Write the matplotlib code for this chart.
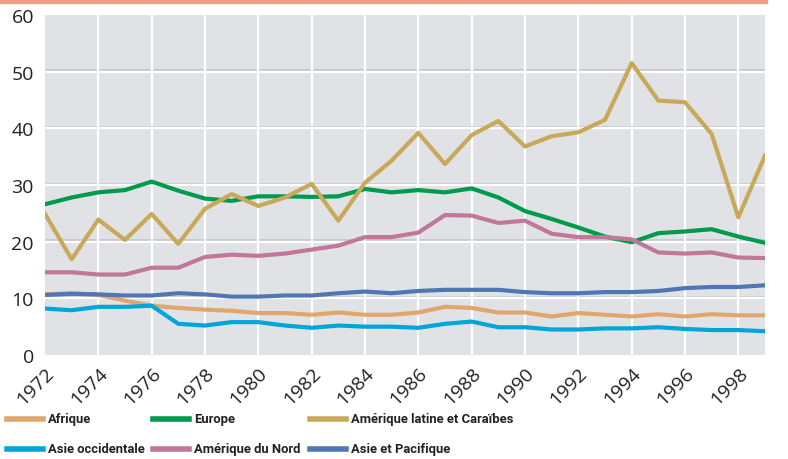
import matplotlib.pyplot as plt
import matplotlib.patches as mpatches
from matplotlib.lines import Line2D

years = list(range(1972, 2000))

afrique = [10.7, 10.9, 10.6, 9.6, 8.7, 8.3, 8.0, 7.8, 7.4, 7.4, 7.1, 7.5, 7.1, 7.1,
           7.5, 8.5, 8.3, 7.5, 7.5, 6.8, 7.4, 7.1, 6.8, 7.2, 6.8, 7.2, 7.0, 7.0]
europe = [26.6, 27.8, 28.7, 29.1, 30.6, 29.0, 27.6, 27.2, 28.0, 28.0, 27.9, 28.0, 29.3, 28.7,
          29.1, 28.7, 29.4, 27.8, 25.4, 24.0, 22.5, 20.9, 19.9, 21.5, 21.8, 22.2, 20.9, 19.8]
amerique_latine = [24.9, 16.9, 23.9, 20.3, 24.9, 19.6, 25.8, 28.4, 26.3, 27.8, 30.2, 23.7, 30.4, 34.3,
                   39.2, 33.7, 38.8, 41.3, 36.8, 38.6, 39.3, 41.5, 51.5, 44.9, 44.6, 39.0, 24.3, 35.2]
asie_occidentale = [8.2, 7.9, 8.5, 8.5, 8.7, 5.5, 5.2, 5.8, 5.8, 5.2, 4.8, 5.2, 5.0, 5.0,
                    4.8, 5.5, 5.9, 4.9, 4.9, 4.5, 4.5, 4.7, 4.7, 4.9, 4.6, 4.4, 4.4, 4.2]
amerique_nord = [14.6, 14.6, 14.2, 14.2, 15.4, 15.4, 17.3, 17.7, 17.5, 17.9, 18.6, 19.3, 20.8, 20.8,
                 21.6, 24.7, 24.6, 23.3, 23.7, 21.4, 20.8, 20.8, 20.4, 18.1, 17.9, 18.1, 17.2, 17.1]
asie_pacifique = [10.6, 10.8, 10.7, 10.5, 10.5, 10.9, 10.7, 10.3, 10.3, 10.5, 10.5, 10.9, 11.2, 10.9,
                  11.3, 11.5, 11.5, 11.5, 11.1, 10.9, 10.9, 11.1, 11.1, 11.3, 11.8, 12.0, 12.0, 12.3]

series = [
    ("Afrique", afrique, "#e0a66c"),
    ("Europe", europe, "#009a4e"),
    ("Amérique latine et Caraïbes", amerique_latine, "#c8a95a"),
    ("Asie occidentale", asie_occidentale, "#00a6d9"),
    ("Amérique du Nord", amerique_nord, "#c0779a"),
    ("Asie et Pacifique", asie_pacifique, "#5077b3"),
]

plt.rcParams['font.family'] = ['Open Sans', 'DejaVu Sans']

W, H = 788, 460
fig = plt.figure(figsize=(W / 100, H / 100), dpi=100)
ax = fig.add_axes([45 / W, 1 - 356 / H, 720 / W, 340 / H])
ax.set_facecolor("#e1e2e6")

# salmon band at top
fig.patches.append(mpatches.Rectangle((0, 1 - 4 / H), 767 / W, 4 / H,
                                      transform=fig.transFigure, color="#e8a088", zorder=0))

for y in range(10, 60, 10):
    ax.axhline(y + 0.22, color="#c4c5cb", lw=1.2, zorder=1)
    ax.axhline(y, color="white", lw=1.6, zorder=1)
for x in range(1974, 2000, 2):
    ax.axvline(x, color="white", lw=1.6, zorder=1)

for name, vals, col in series:
    ax.plot(years, vals, color=col, lw=3, zorder=3)

ax.set_xlim(1972, 1999)
ax.set_ylim(0, 60)
ax.set_yticks(range(0, 61, 10))
ax.set_xticks(range(1972, 1999, 2))
ax.set_xticklabels([str(y) for y in range(1972, 1999, 2)], rotation=45,
                   ha="right", rotation_mode="anchor", fontsize=14)
ax.tick_params(axis="y", labelsize=14, length=0, pad=8, colors="#222222")
ax.tick_params(axis="x", length=0, pad=6, colors="#222222")
for s in ax.spines.values():
    s.set_visible(False)

# legend drawn by hand, 3 columns x 2 rows
col_x = [7, 153, 310]
row_y = [420, 450]
for i, (name, vals, col) in enumerate(series):
    x0 = col_x[i % 3]
    y0 = row_y[i // 3]
    fig.add_artist(Line2D([x0 / W, (x0 + 36) / W], [1 - y0 / H, 1 - y0 / H],
                          transform=fig.transFigure, color=col, lw=4))
    fig.text((x0 + 41) / W, 1 - y0 / H, name, fontsize=9.4, fontweight="bold",
             family=['Roboto', 'DejaVu Sans'], color="#222222", va="center", ha="left")

fig.savefig("out.png", dpi=100)
